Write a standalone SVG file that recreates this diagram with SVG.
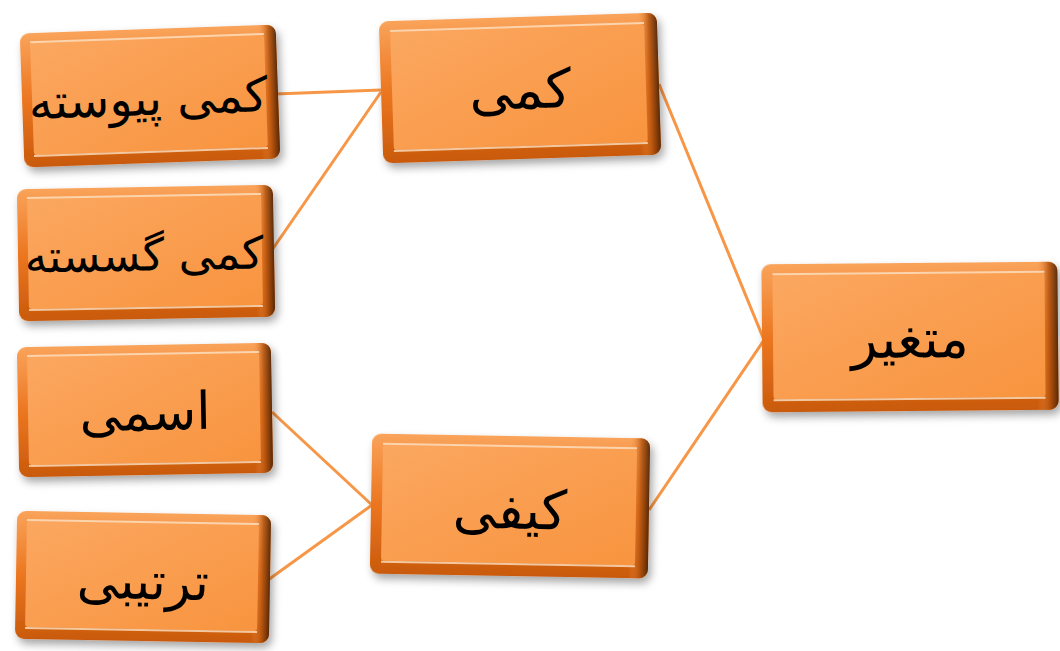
<svg xmlns="http://www.w3.org/2000/svg" width="1060" height="651" viewBox="0 0 1060 651">
<defs>
<linearGradient id="edge" x1="0" y1="0" x2="0" y2="1">
<stop offset="0" stop-color="#f9a35a"/>
<stop offset="0.5" stop-color="#ec7620"/>
<stop offset="1" stop-color="#c95a0c"/>
</linearGradient>
<linearGradient id="edgeR" x1="0" y1="0" x2="1" y2="0">
<stop offset="0" stop-color="#f79646" stop-opacity="0"/>
<stop offset="0.93" stop-color="#f79646" stop-opacity="0"/>
<stop offset="0.97" stop-color="#b0500c" stop-opacity="0.8"/>
<stop offset="1" stop-color="#4a2205" stop-opacity="0.9"/>
</linearGradient>
<linearGradient id="face" x1="0" y1="0" x2="1" y2="1">
<stop offset="0" stop-color="#fba760"/>
<stop offset="1" stop-color="#f8943f"/>
</linearGradient>
<filter id="sh" x="-10%" y="-10%" width="125%" height="130%">
<feDropShadow dx="3" dy="5" stdDeviation="4" flood-color="#000" flood-opacity="0.35"/>
</filter>
</defs>
<style>
.lk{stroke:#f79646;stroke-width:3;fill:none}
.o{fill:url(#edge)}
.r{fill:url(#edgeR)}
.f{fill:url(#face)}
.hl{stroke:#fde2c4;stroke-width:2;opacity:0.8}
.t{font-family:"DejaVu Sans",sans-serif;fill:#000;text-anchor:middle;dominant-baseline:central}
</style>
<g id="connectors">
<line class="lk" x1="275" y1="94" x2="381" y2="90"/>
<line class="lk" x1="272" y1="250" x2="381" y2="92"/>
<line class="lk" x1="272" y1="412" x2="372" y2="505"/>
<line class="lk" x1="268" y1="580" x2="372" y2="505"/>
<line class="lk" x1="659" y1="84" x2="764" y2="340"/>
<line class="lk" x1="649" y1="510" x2="764" y2="340"/>
</g>
<g id="n-kami" transform="translate(520,88) rotate(-1.8)">
<g filter="url(#sh)"><rect class="o" x="-139" y="-71" width="278" height="142" rx="9"/></g>
<rect class="r" x="-139" y="-71" width="278" height="142" rx="9"/>
<rect class="f" x="-128" y="-60" width="254" height="118" rx="3"/>
<line class="hl" x1="-128" y1="-61" x2="126" y2="-61"/>
<line class="hl" x1="-128" y1="59" x2="126" y2="59"/>
<text class="t" x="0" y="2" font-size="54">کمی</text>
</g>
<g id="n-peyvasteh" transform="translate(150,96) rotate(-2)">
<g filter="url(#sh)"><rect class="o" x="-128" y="-67" width="256" height="134" rx="9"/></g>
<rect class="r" x="-128" y="-67" width="256" height="134" rx="9"/>
<rect class="f" x="-118" y="-57" width="234" height="112" rx="3"/>
<line class="hl" x1="-118" y1="-58" x2="116" y2="-58"/>
<line class="hl" x1="-118" y1="56" x2="116" y2="56"/>
<text class="t" x="-2" y="2" font-size="48">کمی پیوسته</text>
</g>
<g id="n-gosasteh" transform="translate(146,253) rotate(-1)">
<g filter="url(#sh)"><rect class="o" x="-128" y="-66" width="256" height="132" rx="9"/></g>
<rect class="r" x="-128" y="-66" width="256" height="132" rx="9"/>
<rect class="f" x="-118" y="-56" width="234" height="110" rx="3"/>
<line class="hl" x1="-118" y1="-57" x2="116" y2="-57"/>
<line class="hl" x1="-118" y1="55" x2="116" y2="55"/>
<text class="t" x="-2" y="2" font-size="45">کمی گسسته</text>
</g>
<g id="n-esmi" transform="translate(145,410) rotate(-1)">
<g filter="url(#sh)"><rect class="o" x="-127" y="-65" width="254" height="130" rx="9"/></g>
<rect class="r" x="-127" y="-65" width="254" height="130" rx="9"/>
<rect class="f" x="-117" y="-55" width="232" height="108" rx="3"/>
<line class="hl" x1="-117" y1="-56" x2="115" y2="-56"/>
<line class="hl" x1="-117" y1="54" x2="115" y2="54"/>
<text class="t" x="0" y="2" font-size="52">اسمی</text>
</g>
<g id="n-tartibi" transform="translate(143,577) rotate(1)">
<g filter="url(#sh)"><rect class="o" x="-127" y="-64" width="254" height="128" rx="9"/></g>
<rect class="r" x="-127" y="-64" width="254" height="128" rx="9"/>
<rect class="f" x="-117" y="-54" width="232" height="106" rx="3"/>
<line class="hl" x1="-117" y1="-55" x2="115" y2="-55"/>
<line class="hl" x1="-117" y1="53" x2="115" y2="53"/>
<text class="t" x="0" y="4" font-size="52">ترتیبی</text>
</g>
<g id="n-keyfi" transform="translate(510,506) rotate(1)">
<g filter="url(#sh)"><rect class="o" x="-139" y="-70" width="278" height="140" rx="9"/></g>
<rect class="r" x="-139" y="-70" width="278" height="140" rx="9"/>
<rect class="f" x="-128" y="-59" width="254" height="116" rx="3"/>
<line class="hl" x1="-128" y1="-60" x2="126" y2="-60"/>
<line class="hl" x1="-128" y1="58" x2="126" y2="58"/>
<text class="t" x="0" y="4" font-size="54">کیفی</text>
</g>
<g id="n-motaghayer" transform="translate(910,337) rotate(-0.5)">
<g filter="url(#sh)"><rect class="o" x="-148" y="-74" width="296" height="148" rx="9"/></g>
<rect class="r" x="-148" y="-74" width="296" height="148" rx="9"/>
<rect class="f" x="-137" y="-63" width="272" height="124" rx="3"/>
<line class="hl" x1="-137" y1="-64" x2="135" y2="-64"/>
<line class="hl" x1="-137" y1="62" x2="135" y2="62"/>
<text class="t" x="0" y="2" font-size="54">متغیر</text>
</g>
</svg>
